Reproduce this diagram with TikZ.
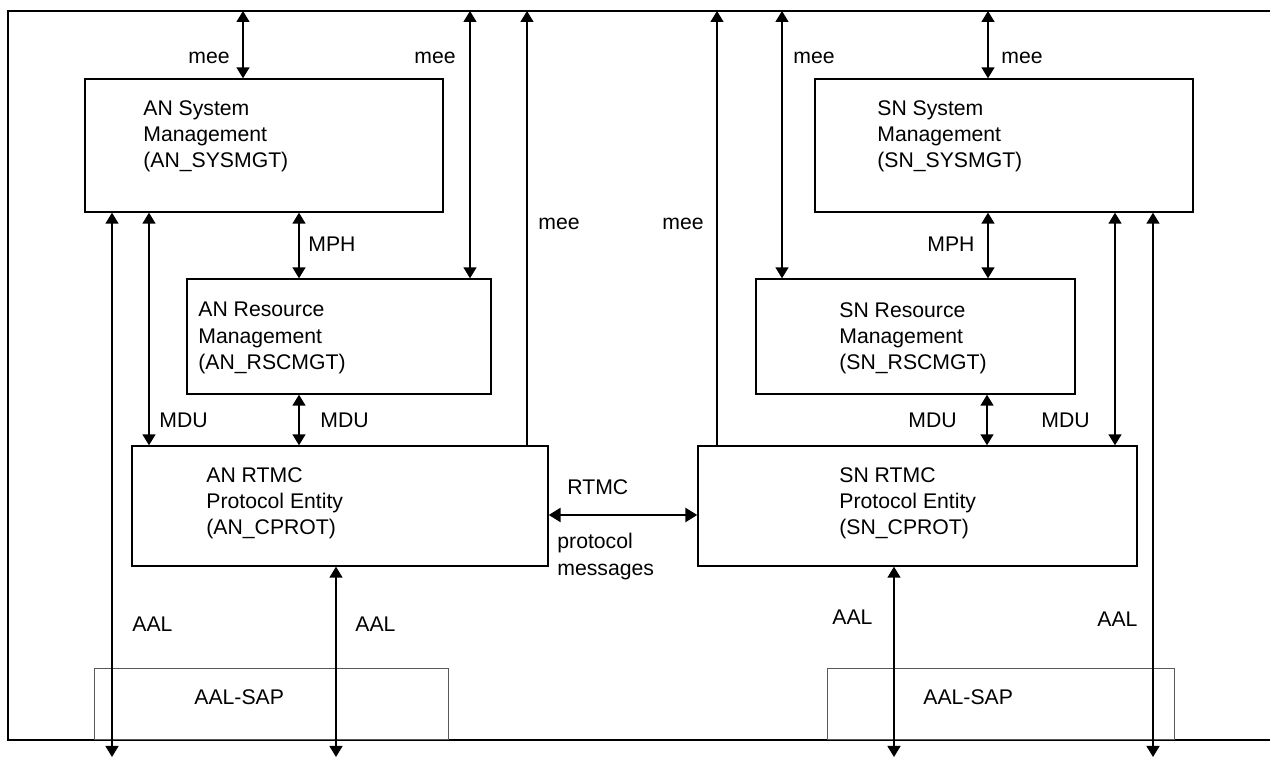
\documentclass[tikz,border=0pt]{standalone}
\usepackage{fontspec}
\setmainfont{Liberation Sans}
\usetikzlibrary{arrows.meta}
\tikzset{
  box/.style={draw, line width=0.7pt, inner sep=0pt},
  sapbox/.style={draw=black!65, line width=0.5pt, inner sep=0pt},
  lbl/.style={inner sep=0pt, anchor=base west},
  txt/.style={inner sep=0pt, anchor=north west, align=left},
  one/.style={line width=0.75pt, -{Triangle[length=5.5pt,width=6.5pt]}},
  two/.style={line width=0.75pt, {Triangle[length=5.5pt,width=6.5pt]}-{Triangle[length=5.5pt,width=6.5pt]}},
  bold/.style={line width=1.3pt, {Triangle[length=6pt,width=7pt]}-{Triangle[length=6pt,width=7pt]}},
}
\begin{document}
\begin{tikzpicture}[x=0.5pt,y=-0.5pt,font=\fontsize{10.6}{13.2}\selectfont]
\useasboundingbox (0,0) rectangle (1270,758);
% frame
\draw[line width=1.2pt] (1270,11) -- (8,11) -- (8,740) -- (1270,740);
\coordinate (top) at (0,11);
\coordinate (bot) at (0,757);
% AN side
\node[box, minimum width=179pt, minimum height=66.5pt] (ansys) at (264,145.5) {};
\node[box, minimum width=152pt, minimum height=57.5pt] (anrsc) at (339,336.5) {};
\node[box, minimum width=208pt, minimum height=60pt] (anprot) at (340,506) {};
\node[sapbox, minimum width=177pt, minimum height=35.5pt] (ansap) at (271,704.5) {};
\node[txt] (ansystxt) at (143,100) {AN System\\Management\\(AN\_SYSMGT)};
\node[txt] (anrsctxt) at (198,302) {AN Resource\\Management\\(AN\_RSCMGT)};
\node[txt] (anprottxt) at (206,467) {AN RTMC\\Protocol Entity\\(AN\_CPROT)};
\node[lbl] (ansaptxt) at (194,705) {AAL-SAP};
% SN side
\node[box, minimum width=189pt, minimum height=66.5pt] (snsys) at (1004,145.5) {};
\node[box, minimum width=159.5pt, minimum height=57.5pt] (snrsc) at (915.5,336.5) {};
\node[box, minimum width=219.5pt, minimum height=60pt] (snprot) at (917.5,506) {};
\node[sapbox, minimum width=173.5pt, minimum height=35.5pt] (snsap) at (1000.5,704.5) {};
\node[txt] (snsystxt) at (877,100) {SN System\\Management\\(SN\_SYSMGT)};
\node[txt] (snrsctxt) at (839,302) {SN Resource\\Management\\(SN\_RSCMGT)};
\node[txt] (snprottxt) at (839,467) {SN RTMC\\Protocol Entity\\(SN\_CPROT)};
\node[lbl] (snsaptxt) at (923,705) {AAL-SAP};
% mee
\draw[two] (243,0 |- top) -- (243,0 |- ansys.north);
\draw[two] (470,0 |- top) -- (470,0 |- anrsc.north);
\draw[one] (527,0 |- anprot.north) -- (527,0 |- top);
\draw[one] (717,0 |- snprot.north) -- (717,0 |- top);
\draw[two] (782,0 |- top) -- (782,0 |- snrsc.north);
\draw[two] (988,0 |- top) -- (988,0 |- snsys.north);
\node[lbl] (mee1) at (188,64) {mee};
\node[lbl] (mee2) at (414,64) {mee};
\node[lbl] (mee3) at (538,230) {mee};
\node[lbl] (mee4) at (662,230) {mee};
\node[lbl] (mee5) at (793,64) {mee};
\node[lbl] (mee6) at (1001,64) {mee};
% MPH
\draw[two] (299,0 |- ansys.south) -- (299,0 |- anrsc.north);
\draw[two] (988,0 |- snsys.south) -- (988,0 |- snrsc.north);
\node[lbl] (mph1) at (308,252) {MPH};
\node[lbl] (mph2) at (927,252) {MPH};
% MDU
\draw[two] (149,0 |- ansys.south) -- (149,0 |- anprot.north);
\draw[two] (299,0 |- anrsc.south) -- (299,0 |- anprot.north);
\draw[two] (987,0 |- snrsc.south) -- (987,0 |- snprot.north);
\draw[two] (1115,0 |- snsys.south) -- (1115,0 |- snprot.north);
\node[lbl] (mdu1) at (159,428) {MDU};
\node[lbl] (mdu2) at (320,428) {MDU};
\node[lbl] (mdu3) at (908,428) {MDU};
\node[lbl] (mdu4) at (1041,428) {MDU};
% AAL
\draw[two] (112,0 |- ansys.south) -- (112,0 |- bot);
\draw[two] (336,0 |- anprot.south) -- (336,0 |- bot);
\draw[two] (894,0 |- snprot.south) -- (894,0 |- bot);
\draw[two] (1153,0 |- snsys.south) -- (1153,0 |- bot);
\node[lbl] (aal1) at (132,632) {AAL};
\node[lbl] (aal2) at (355,632) {AAL};
\node[lbl] (aal3) at (832,625) {AAL};
\node[lbl] (aal4) at (1097,627) {AAL};
% RTMC protocol messages
\draw[bold] (anprot.east |- 0,515) -- (snprot.west |- 0,515);
\node[lbl] (rtmc) at (567,495) {RTMC};
\node[txt] (rtmcmsg) at (557,533) {protocol\\messages};
\end{tikzpicture}
\end{document}
